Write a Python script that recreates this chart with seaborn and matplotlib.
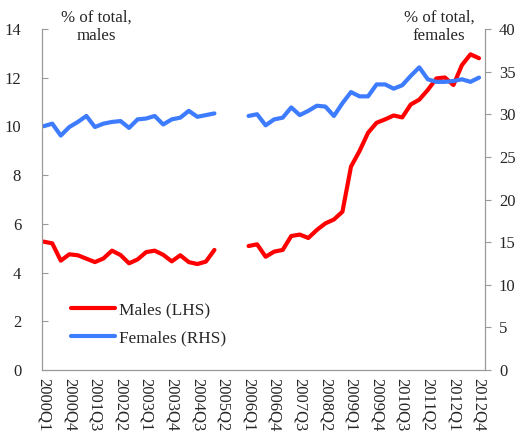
import numpy as np
import pandas as pd
import matplotlib
matplotlib.use('Agg')
import matplotlib.pyplot as plt
import seaborn as sns
from matplotlib.lines import Line2D

nan = np.nan

quarters = [f'{y}Q{q}' for y in range(2000, 2013) for q in range(1, 5)]

males = [5.27, 5.20, 4.49, 4.75, 4.71, 4.57, 4.43, 4.58, 4.90, 4.72,
         4.38, 4.54, 4.84, 4.90, 4.73, 4.46, 4.71, 4.43, 4.35, 4.45,
         4.93, nan, nan, nan,
         5.09, 5.16, 4.65, 4.86, 4.93, 5.50, 5.56, 5.42, 5.75, 6.02,
         6.18, 6.50, 8.35, 8.99, 9.74, 10.15, 10.29, 10.45, 10.37, 10.90,
         11.10, 11.50, 11.97, 12.01, 11.70, 12.52, 12.96, 12.80]

females = [28.6, 28.9, 27.5, 28.5, 29.1, 29.8, 28.5, 28.9, 29.1, 29.2,
           28.4, 29.4, 29.5, 29.8, 28.8, 29.4, 29.6, 30.4, 29.7, 29.9,
           30.1, nan, nan, nan,
           29.8, 30.0, 28.7, 29.4, 29.6, 30.8, 29.9, 30.4, 31.0, 30.9,
           29.8, 31.3, 32.6, 32.1, 32.1, 33.5, 33.5, 33.0, 33.4, 34.5,
           35.5, 34.1, 33.8, 33.8, 33.9, 34.1, 33.8, 34.3]

df = pd.DataFrame({'idx': np.arange(len(quarters)), 'quarter': quarters,
                   'males': males, 'females': females})
df['seg'] = (df['idx'] >= 21).astype(int)
df = df.dropna()

sns.set_style('white')
plt.rcParams['font.family'] = ['Liberation Serif', 'DejaVu Serif']

RED = '#FF0000'
BLUE = '#3D7BFF'
GRAY = '#999999'
LW = 3.0

fig, ax = plt.subplots(figsize=(5.21, 4.34), dpi=100)
fig.subplots_adjust(left=42/521, right=485/521, top=1-29/434, bottom=1-370/434)
ax2 = ax.twinx()

sns.lineplot(data=df, x='idx', y='males', units='seg', estimator=None,
             color=RED, lw=LW, ax=ax)
sns.lineplot(data=df, x='idx', y='females', units='seg', estimator=None,
             color=BLUE, lw=LW, ax=ax2)

ax.set_xlim(-0.2, 51.7)
ax.set_ylim(0, 14)
ax2.set_ylim(0, 40)
ax.set_yticks(range(0, 15, 2))
ax2.set_yticks(range(0, 41, 5))
ax.set_xticks(range(0, 52, 3))
ax.set_xticklabels(quarters[::3], rotation=270)
ax.set_xlabel('')
ax.set_ylabel('')
ax2.set_ylabel('')

for a in (ax, ax2):
    for s in a.spines.values():
        s.set_color(GRAY)
    a.spines['top'].set_visible(False)
ax.tick_params(axis='y', direction='in', length=4, color=GRAY, labelsize=12, pad=15)
ax.tick_params(axis='x', direction='in', length=4, color=GRAY, labelsize=12, pad=6)
ax2.tick_params(axis='y', direction='out', length=4, color=GRAY, labelsize=12, pad=6)

fig.text(96/521, 1-10/434, '% of total,\nmales', ha='center', va='top', fontsize=12.2)
fig.text(439/521, 1-10/434, '% of total,\nfemales', ha='center', va='top', fontsize=12.2)

handles = [Line2D([], [], color=RED, lw=LW), Line2D([], [], color=BLUE, lw=LW)]
ax.legend(handles, ['Males (LHS)', 'Females (RHS)'], loc='upper left',
          bbox_to_anchor=(0.05, 0.22), borderaxespad=0, frameon=False,
          fontsize=12.4, handlelength=2.55, handletextpad=0.25, labelspacing=0.7)

fig.savefig('out.png', dpi=100)
